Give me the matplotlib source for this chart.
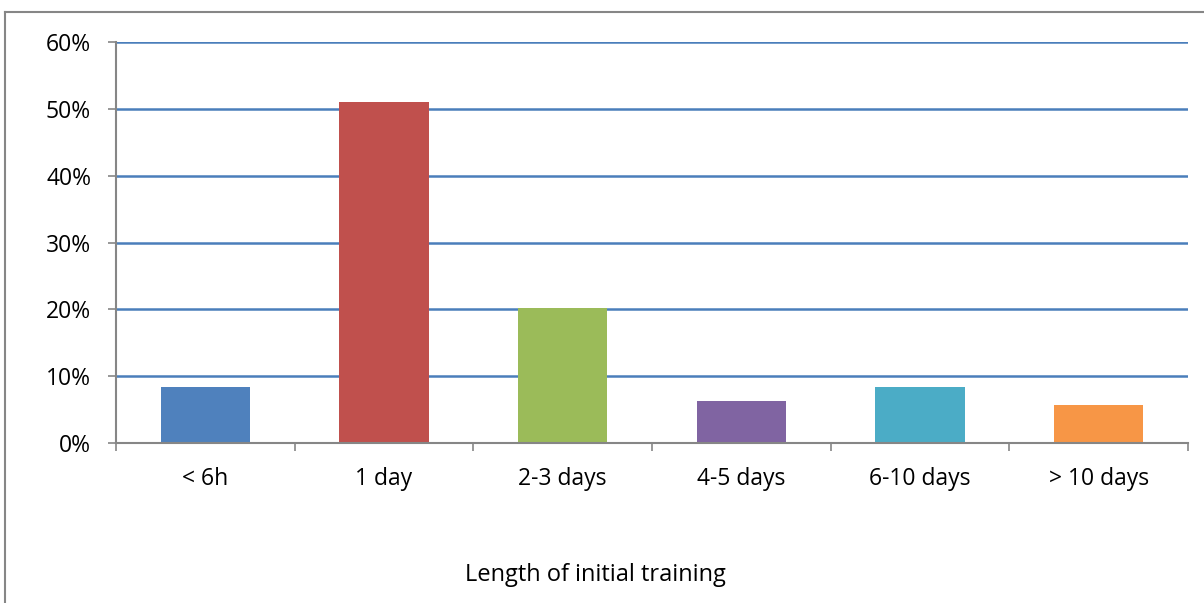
import numpy as np
import matplotlib.pyplot as plt
from matplotlib.lines import Line2D

#--------- data ---------
categories = ['< 6h', '1 day', '2-3 days', '4-5 days', '6-10 days', '> 10 days']
values = [8.4, 51.0, 20.2, 6.3, 8.4, 5.7]   # percent
colours = ['#4F81BD', '#C0504D', '#9BBB59', '#8064A2', '#4BACC6', '#F79646']

GREY = '#868686'
GRID = '#4A7EBB'

plt.rcParams['font.family'] = ['Open Sans', 'DejaVu Sans']

fig = plt.figure(figsize=(12.04, 6.03), dpi=100)
ax = fig.add_axes([116/1204, 1-443/603, (1188-116)/1204, (443-42)/603])

x = np.arange(len(categories))
ax.bar(x, values, width=0.5, color=colours, zorder=3)

ax.set_xlim(-0.5, len(categories)-0.5)
ax.set_ylim(0, 60)
ax.set_yticks(np.arange(0, 61, 10))
ax.set_yticklabels(['%d%%' % v for v in range(0, 61, 10)])
ax.yaxis.grid(True, color=GRID, lw=1.8, zorder=0)

# category boundaries get the tick marks, labels go at centres
ax.set_xticks(np.arange(-0.5, len(categories), 1.0))
ax.set_xticklabels([])
ax.set_xticks(x, minor=True)
ax.set_xticklabels(categories, minor=True)
ax.tick_params(axis='x', which='major', length=6, width=1.2, color=GREY, direction='out')
ax.tick_params(axis='x', which='minor', length=0, pad=17, labelsize=16.5)
ax.tick_params(axis='y', length=6, width=1.2, color=GREY, pad=12, labelsize=16.5)

for s in ['top', 'right']:
    ax.spines[s].set_visible(False)
for s in ['left', 'bottom']:
    ax.spines[s].set_color(GREY)
    ax.spines[s].set_linewidth(1.5)
    ax.spines[s].set_zorder(4)

fig.text(595/1204, 1-575/603, 'Length of initial training', ha='center', va='center', fontsize=17)

# chart area border (left and top visible)
fig.add_artist(Line2D([5/1204, 5/1204], [0, 1-12/603], color=GREY, lw=1.5))
fig.add_artist(Line2D([5/1204, 1], [1-12/603, 1-12/603], color=GREY, lw=1.5))

fig.savefig('out.png', dpi=100)
